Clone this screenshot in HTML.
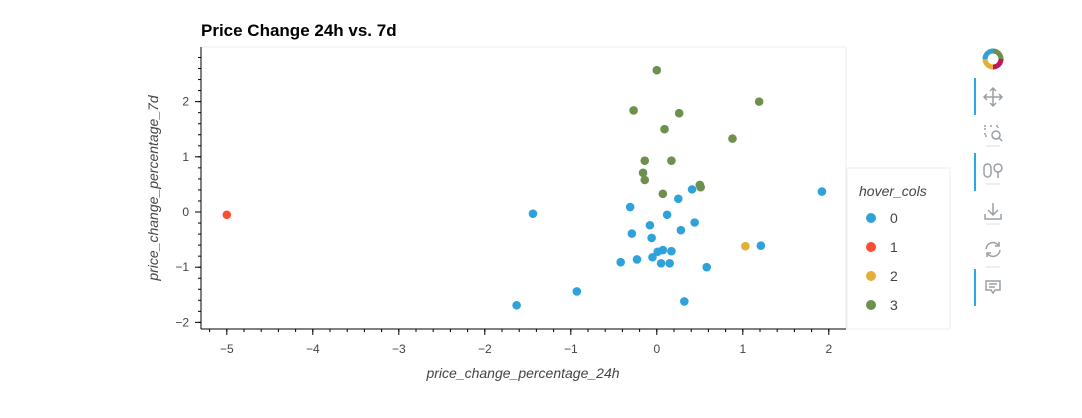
<!DOCTYPE html>
<html><head><meta charset="utf-8"><style>
body{margin:0;background:#fff;width:1082px;height:413px;overflow:hidden;font-family:"Liberation Sans",sans-serif}
</style></head><body>
<svg width="1082" height="413" xmlns="http://www.w3.org/2000/svg" font-family="Liberation Sans, sans-serif">
<text x="201" y="36" font-size="17" font-weight="bold" fill="#000">Price Change 24h vs. 7d</text>
<rect x="201" y="47" width="645" height="282" fill="none" stroke="#ececec"/>
<g id="axes"></g>
<g id="points"></g>
<g>
<rect x="847" y="168" width="103" height="161" fill="#fff" stroke="#ececec"/>
<text x="859" y="196" font-size="14" font-style="italic" fill="#444">hover_cols</text>
<g id="legend-items"></g>
</g>
<g stroke="#9aa0a6" fill="none" stroke-width="1.5">
<g>
<circle cx="993" cy="59" r="8" stroke="#e5ae38" stroke-width="5"/>
<path d="M985 59 A8 8 0 0 1 993 51" stroke="#30a2da" stroke-width="5"/>
<path d="M1001 59 A8 8 0 0 1 993 67" stroke="#c2185b" stroke-width="5"/>
<path d="M993 51 A8 8 0 0 1 1001 59" stroke="#6d904f" stroke-width="5"/>
</g>
<rect x="974" y="78" width="2" height="37" fill="#26aae1" stroke="none"/>
<rect x="974" y="153" width="2" height="38" fill="#26aae1" stroke="none"/>
<rect x="974" y="269" width="2" height="37" fill="#26aae1" stroke="none"/>
<g><path d="M993 88v18M984 97h18M990 91l3-3 3 3M990 103l3 3 3-3M987 94l-3 3 3 3M999 94l3 3-3 3"/></g>
<g><path d="M986 126h-1v4M990 126h3M985 133v3h3M996 126h2v2" stroke-dasharray="2 1"/><circle cx="996" cy="135" r="4"/><path d="M999 138l3 3"/></g>
<path d="M986 146h14M986 184h14M986 224h14M986 267h14" stroke="#ddd" stroke-width="1"/>
<g><rect x="984" y="164" width="7" height="13" rx="3.5"/><circle cx="998" cy="168" r="4"/><path d="M998 172v6"/></g>
<g><path d="M993 203v12M988 210l5 5 5-5M985 214v5h16v-5"/></g>
<g><path d="M986 249a7 7 0 0 1 13-3M1000 250a7 7 0 0 1-13 3M999 242v4h-4M987 257v-4h4"/></g>
<g><path d="M986 281h14v9h-5l-2 3-2-3h-5z"/><path d="M989 284h8M989 287h6"/></g>
</g>
</svg>
<script>
const xs0=[0.0,1.92,0.41,0.25,-1.44,-0.31,0.12,0.44,-0.08,0.28,-0.29,-0.06,0.01,0.07,0.17,-0.05,-0.23,-0.42,0.05,0.15,0.58,1.21,-0.93,0.32,-1.63];
const xVals0=xs0.slice(1);
const yVals0=[0.37,0.41,0.24,-0.03,0.09,-0.05,-0.19,-0.24,-0.33,-0.39,-0.47,-0.72,-0.69,-0.71,-0.82,-0.86,-0.91,-0.93,-0.93,-1.00,-0.61,-1.44,-1.62,-1.69];
const xVals1=[-5.0];
const yVals1=[-0.05];
const xVals2=[1.03];
const yVals2=[-0.62];
const xVals3=[0.0,1.19,-0.27,0.26,0.09,0.88,-0.14,0.17,-0.16,-0.14,0.50,0.51,0.07];
const yVals3=[2.57,2.0,1.84,1.79,1.50,1.33,0.93,0.93,0.71,0.58,0.49,0.45,0.33];
const xTicks=[-5,-4,-3,-2,-1,0,1,2];
const yTicks=[-2,-1,0,1,2];
const categories=["0","1","2","3"];
const colors=["#30a2da","#fc4f30","#e5ae38","#6d904f"];
const NS="http://www.w3.org/2000/svg";
const X0=201,X1=846,Y0=47,Y1=329,xmin=-5.30,xmax=2.20,ymin=-2.12,ymax=2.99;
const sx=v=>X0+(v-xmin)/(xmax-xmin)*(X1-X0);
const sy=v=>Y1-(v-ymin)/(ymax-ymin)*(Y1-Y0);
function mk(t,a,p){const e=document.createElementNS(NS,t);for(const k in a)e.setAttribute(k,a[k]);p.appendChild(e);return e;}
const ax=document.getElementById('axes');
let l=mk('line',{x1:X0,y1:Y0,x2:X0,y2:Y1,stroke:'#000'},ax);


l=mk('line',{x1:X0,y1:Y1,x2:X1,y2:Y1,stroke:'#000'},ax);


for(let v=-5.2;v<=2.2;v+=0.2){const p=sx(Math.round(v*10)/10);mk('line',{x1:p,y1:Y1,x2:p,y2:Y1+3,stroke:'#000'},ax);}
for(let v=-2;v<=2.9;v+=0.2){const p=sy(Math.round(v*10)/10);mk('line',{x1:X0,y1:p,x2:X0-3,y2:p,stroke:'#000'},ax);}
xTicks.forEach(t=>{const p=sx(t);mk('line',{x1:p,y1:Y1,x2:p,y2:Y1+6,stroke:'#000'},ax);
const e=mk('text',{x:p,y:Y1+24,'text-anchor':'middle','font-size':12,fill:'#444'},ax);e.textContent=t<0?'\u2212'+(-t):t;

});
yTicks.forEach(t=>{const p=sy(t);mk('line',{x1:X0,y1:p,x2:X0-6,y2:p,stroke:'#000'},ax);
const e=mk('text',{x:X0-12,y:p+4,'text-anchor':'end','font-size':12,fill:'#444'},ax);e.textContent=t<0?'\u2212'+(-t):t;

});
let e=mk('text',{x:523,y:378,'text-anchor':'middle','font-size':14,'font-style':'italic',fill:'#444'},ax);e.textContent='price_change_percentage_24h';


e=mk('text',{x:158,y:188,'text-anchor':'middle','font-size':14,'font-style':'italic',fill:'#444',transform:'rotate(-90 158 188)'},ax);e.textContent='price_change_percentage_7d';


const pg=document.getElementById('points');
[[xVals0,yVals0],[xVals1,yVals1],[xVals2,yVals2],[xVals3,yVals3]].forEach((s,k)=>{
s[0].forEach((x,i)=>{const c=mk('circle',{cx:sx(x),cy:sy(s[1][i]),r:4.3,fill:colors[k]},pg);

});});
const lg=document.getElementById('legend-items');
categories.forEach((c,k)=>{const y=218+k*29;
const g=mk('g',{},lg);


mk('circle',{cx:871,cy:y,r:5,fill:colors[k]},g);
const t=mk('text',{x:890,y:y+5,'font-size':14,fill:'#444'},g);t.textContent=c;});
</script>
</body></html>
